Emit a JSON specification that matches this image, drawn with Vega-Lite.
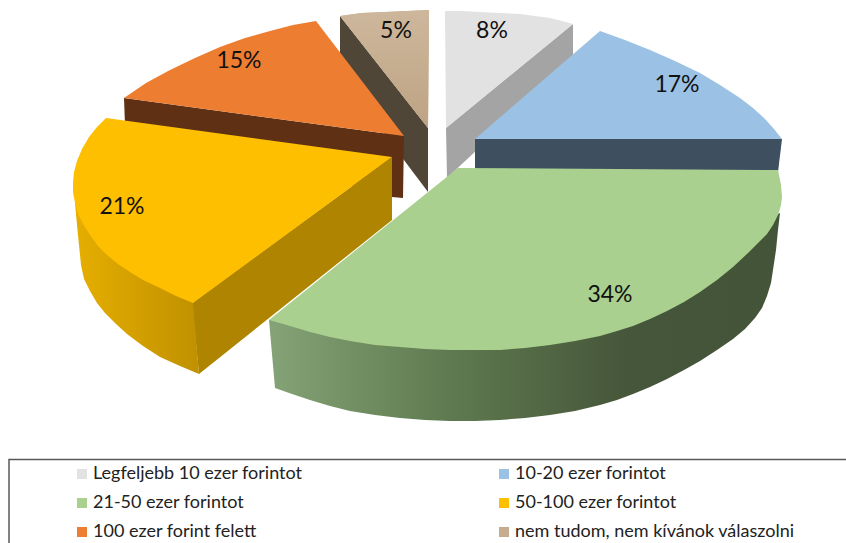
{"$schema":"https://vega.github.io/schema/vega-lite/v6.json","width":846,"height":543,"padding":0,"autosize":{"type":"none"},"background":"white","config":{"view":{"stroke":null}},"datasets":{"shapes":[
{"face":"tanSide","n":1,"x":340,"y":16},{"face":"tanSide","n":2,"x":428,"y":128},{"face":"tanSide","n":3,"x":428,"y":192},{"face":"tanSide","n":4,"x":340,"y":75},
{"face":"graySide","n":1,"x":446,"y":128},{"face":"graySide","n":2,"x":573,"y":24},{"face":"graySide","n":3,"x":573,"y":60},{"face":"graySide","n":4,"x":447,"y":178},
{"face":"orangeSide","n":1,"x":124,"y":98},{"face":"orangeSide","n":2,"x":404,"y":136},{"face":"orangeSide","n":3,"x":403,"y":198},{"face":"orangeSide","n":4,"x":392,"y":197},{"face":"orangeSide","n":5,"x":125,"y":125},
{"face":"yellowRight","n":1,"x":192,"y":303},{"face":"yellowRight","n":2,"x":392,"y":157},{"face":"yellowRight","n":3,"x":392,"y":220},{"face":"yellowRight","n":4,"x":199,"y":374},
{"face":"yellowOuter","n":1,"x":75,"y":203},{"face":"yellowOuter","n":2,"x":77,"y":225},{"face":"yellowOuter","n":3,"x":79,"y":245},{"face":"yellowOuter","n":4,"x":81,"y":265},{"face":"yellowOuter","n":5,"x":84,"y":279},{"face":"yellowOuter","n":6,"x":90,"y":291},{"face":"yellowOuter","n":7,"x":97,"y":303},{"face":"yellowOuter","n":8,"x":105,"y":313},{"face":"yellowOuter","n":9,"x":115,"y":323},{"face":"yellowOuter","n":10,"x":127,"y":334},{"face":"yellowOuter","n":11,"x":143,"y":346},{"face":"yellowOuter","n":12,"x":160,"y":357},{"face":"yellowOuter","n":13,"x":180,"y":366},{"face":"yellowOuter","n":14,"x":199,"y":374},{"face":"yellowOuter","n":15,"x":193,"y":303},{"face":"yellowOuter","n":16,"x":120,"y":230},
{"face":"blueSide","n":1,"x":475,"y":139},{"face":"blueSide","n":2,"x":782,"y":139},{"face":"blueSide","n":3,"x":778,"y":172},{"face":"blueSide","n":4,"x":475,"y":172},
{"face":"greenOuter","n":1,"x":780,"y":213},{"face":"greenOuter","n":2,"x":778,"y":230},{"face":"greenOuter","n":3,"x":776,"y":250},{"face":"greenOuter","n":4,"x":773,"y":270},{"face":"greenOuter","n":5,"x":771,"y":283},{"face":"greenOuter","n":6,"x":767,"y":296},{"face":"greenOuter","n":7,"x":762,"y":308},{"face":"greenOuter","n":8,"x":755,"y":318},{"face":"greenOuter","n":9,"x":745,"y":329},{"face":"greenOuter","n":10,"x":733,"y":339},{"face":"greenOuter","n":11,"x":717,"y":350},{"face":"greenOuter","n":12,"x":700,"y":361},{"face":"greenOuter","n":13,"x":684,"y":370},{"face":"greenOuter","n":14,"x":667,"y":379},{"face":"greenOuter","n":15,"x":650,"y":387},{"face":"greenOuter","n":16,"x":633,"y":394},{"face":"greenOuter","n":17,"x":617,"y":400},{"face":"greenOuter","n":18,"x":600,"y":405},{"face":"greenOuter","n":19,"x":575,"y":411},{"face":"greenOuter","n":20,"x":550,"y":415},{"face":"greenOuter","n":21,"x":525,"y":418},{"face":"greenOuter","n":22,"x":500,"y":420},{"face":"greenOuter","n":23,"x":475,"y":421},{"face":"greenOuter","n":24,"x":450,"y":421},{"face":"greenOuter","n":25,"x":425,"y":420},{"face":"greenOuter","n":26,"x":400,"y":418},{"face":"greenOuter","n":27,"x":375,"y":415},{"face":"greenOuter","n":28,"x":350,"y":411},{"face":"greenOuter","n":29,"x":330,"y":406},{"face":"greenOuter","n":30,"x":310,"y":400},{"face":"greenOuter","n":31,"x":292,"y":394},{"face":"greenOuter","n":32,"x":275,"y":388},{"face":"greenOuter","n":33,"x":269,"y":320},{"face":"greenOuter","n":34,"x":400,"y":300},{"face":"greenOuter","n":35,"x":700,"y":250}
],"tops":[
{"slice":"Legfeljebb 10 ezer forintot","n":1,"x":446,"y":128},{"slice":"Legfeljebb 10 ezer forintot","n":2,"x":445,"y":11},{"slice":"Legfeljebb 10 ezer forintot","n":3,"x":462,"y":11},{"slice":"Legfeljebb 10 ezer forintot","n":4,"x":480,"y":12},{"slice":"Legfeljebb 10 ezer forintot","n":5,"x":500,"y":13},{"slice":"Legfeljebb 10 ezer forintot","n":6,"x":520,"y":14},{"slice":"Legfeljebb 10 ezer forintot","n":7,"x":535,"y":16},{"slice":"Legfeljebb 10 ezer forintot","n":8,"x":550,"y":18},{"slice":"Legfeljebb 10 ezer forintot","n":9,"x":562,"y":21},{"slice":"Legfeljebb 10 ezer forintot","n":10,"x":573,"y":24},
{"slice":"10-20 ezer forintot","n":1,"x":475,"y":139},{"slice":"10-20 ezer forintot","n":2,"x":600,"y":31},{"slice":"10-20 ezer forintot","n":3,"x":625,"y":40},{"slice":"10-20 ezer forintot","n":4,"x":650,"y":50},{"slice":"10-20 ezer forintot","n":5,"x":675,"y":61},{"slice":"10-20 ezer forintot","n":6,"x":700,"y":73},{"slice":"10-20 ezer forintot","n":7,"x":720,"y":85},{"slice":"10-20 ezer forintot","n":8,"x":740,"y":98},{"slice":"10-20 ezer forintot","n":9,"x":753,"y":108},{"slice":"10-20 ezer forintot","n":10,"x":765,"y":119},{"slice":"10-20 ezer forintot","n":11,"x":774,"y":129},{"slice":"10-20 ezer forintot","n":12,"x":782,"y":139},
{"slice":"21-50 ezer forintot","n":1,"x":458,"y":168},{"slice":"21-50 ezer forintot","n":2,"x":778,"y":170},{"slice":"21-50 ezer forintot","n":3,"x":781,"y":185},{"slice":"21-50 ezer forintot","n":4,"x":782,"y":197},{"slice":"21-50 ezer forintot","n":5,"x":781,"y":205},{"slice":"21-50 ezer forintot","n":6,"x":778,"y":215},{"slice":"21-50 ezer forintot","n":7,"x":773,"y":225},{"slice":"21-50 ezer forintot","n":8,"x":767,"y":234},{"slice":"21-50 ezer forintot","n":9,"x":758,"y":243},{"slice":"21-50 ezer forintot","n":10,"x":748,"y":253},{"slice":"21-50 ezer forintot","n":11,"x":733,"y":267},{"slice":"21-50 ezer forintot","n":12,"x":717,"y":280},{"slice":"21-50 ezer forintot","n":13,"x":700,"y":292},{"slice":"21-50 ezer forintot","n":14,"x":684,"y":302},{"slice":"21-50 ezer forintot","n":15,"x":667,"y":311},{"slice":"21-50 ezer forintot","n":16,"x":650,"y":319},{"slice":"21-50 ezer forintot","n":17,"x":633,"y":326},{"slice":"21-50 ezer forintot","n":18,"x":617,"y":331},{"slice":"21-50 ezer forintot","n":19,"x":600,"y":336},{"slice":"21-50 ezer forintot","n":20,"x":575,"y":341},{"slice":"21-50 ezer forintot","n":21,"x":550,"y":345},{"slice":"21-50 ezer forintot","n":22,"x":525,"y":348},{"slice":"21-50 ezer forintot","n":23,"x":500,"y":350},{"slice":"21-50 ezer forintot","n":24,"x":475,"y":350},{"slice":"21-50 ezer forintot","n":25,"x":450,"y":350},{"slice":"21-50 ezer forintot","n":26,"x":425,"y":349},{"slice":"21-50 ezer forintot","n":27,"x":400,"y":347},{"slice":"21-50 ezer forintot","n":28,"x":375,"y":345},{"slice":"21-50 ezer forintot","n":29,"x":350,"y":341},{"slice":"21-50 ezer forintot","n":30,"x":330,"y":337},{"slice":"21-50 ezer forintot","n":31,"x":310,"y":332},{"slice":"21-50 ezer forintot","n":32,"x":290,"y":326},{"slice":"21-50 ezer forintot","n":33,"x":269,"y":320},
{"slice":"50-100 ezer forintot","n":1,"x":392,"y":157},{"slice":"50-100 ezer forintot","n":2,"x":106,"y":118},{"slice":"50-100 ezer forintot","n":3,"x":97,"y":127},{"slice":"50-100 ezer forintot","n":4,"x":89,"y":137},{"slice":"50-100 ezer forintot","n":5,"x":82,"y":149},{"slice":"50-100 ezer forintot","n":6,"x":77,"y":161},{"slice":"50-100 ezer forintot","n":7,"x":74,"y":172},{"slice":"50-100 ezer forintot","n":8,"x":73,"y":182},{"slice":"50-100 ezer forintot","n":9,"x":73,"y":192},{"slice":"50-100 ezer forintot","n":10,"x":75,"y":203},{"slice":"50-100 ezer forintot","n":11,"x":78,"y":214},{"slice":"50-100 ezer forintot","n":12,"x":83,"y":224},{"slice":"50-100 ezer forintot","n":13,"x":90,"y":235},{"slice":"50-100 ezer forintot","n":14,"x":98,"y":246},{"slice":"50-100 ezer forintot","n":15,"x":107,"y":255},{"slice":"50-100 ezer forintot","n":16,"x":118,"y":264},{"slice":"50-100 ezer forintot","n":17,"x":130,"y":272},{"slice":"50-100 ezer forintot","n":18,"x":143,"y":280},{"slice":"50-100 ezer forintot","n":19,"x":160,"y":288},{"slice":"50-100 ezer forintot","n":20,"x":176,"y":296},{"slice":"50-100 ezer forintot","n":21,"x":193,"y":303},
{"slice":"100 ezer forint felett","n":1,"x":404,"y":136},{"slice":"100 ezer forint felett","n":2,"x":124,"y":98},{"slice":"100 ezer forint felett","n":3,"x":146,"y":83},{"slice":"100 ezer forint felett","n":4,"x":170,"y":70},{"slice":"100 ezer forint felett","n":5,"x":195,"y":58},{"slice":"100 ezer forint felett","n":6,"x":220,"y":47},{"slice":"100 ezer forint felett","n":7,"x":245,"y":38},{"slice":"100 ezer forint felett","n":8,"x":270,"y":31},{"slice":"100 ezer forint felett","n":9,"x":293,"y":25},{"slice":"100 ezer forint felett","n":10,"x":316,"y":21},
{"slice":"nem tudom, nem kívánok válaszolni","n":1,"x":428,"y":128},{"slice":"nem tudom, nem kívánok válaszolni","n":2,"x":340,"y":16},{"slice":"nem tudom, nem kívánok válaszolni","n":3,"x":362,"y":13},{"slice":"nem tudom, nem kívánok válaszolni","n":4,"x":385,"y":12},{"slice":"nem tudom, nem kívánok válaszolni","n":5,"x":407,"y":11},{"slice":"nem tudom, nem kívánok válaszolni","n":6,"x":429,"y":10}
],"labels":[
{"slice":"Legfeljebb 10 ezer forintot","value":0.08,"x":492,"y":31},{"slice":"10-20 ezer forintot","value":0.17,"x":677,"y":85},{"slice":"21-50 ezer forintot","value":0.34,"x":610,"y":295},{"slice":"50-100 ezer forintot","value":0.21,"x":122,"y":207},{"slice":"100 ezer forint felett","value":0.15,"x":239,"y":61},{"slice":"nem tudom, nem kívánok válaszolni","value":0.05,"x":396,"y":31}
],"frame":[{"x":9,"x2":900,"y":459.5,"y2":600}]},
"encoding":{"x":{"field":"x","type":"quantitative","scale":{"domain":[0,846],"nice":false,"zero":false},"axis":null},"y":{"field":"y","type":"quantitative","scale":{"domain":[543,0],"nice":false,"zero":false},"axis":null}},
"layer":[
{"data":{"name":"shapes"},"transform":[{"filter":"datum.face=='tanSide'"}],"mark":{"type":"line","fill":"#4f4637","strokeWidth":0},"encoding":{"order":{"field":"n"}}},
{"data":{"name":"shapes"},"transform":[{"filter":"datum.face=='graySide'"}],"mark":{"type":"line","fill":"#a4a4a4","strokeWidth":0},"encoding":{"order":{"field":"n"}}},
{"data":{"name":"shapes"},"transform":[{"filter":"datum.face=='orangeSide'"}],"mark":{"type":"line","fill":"#603014","strokeWidth":0},"encoding":{"order":{"field":"n"}}},
{"data":{"name":"shapes"},"transform":[{"filter":"datum.face=='yellowRight'"}],"mark":{"type":"line","fill":"#ae8400","strokeWidth":0},"encoding":{"order":{"field":"n"}}},
{"data":{"name":"shapes"},"transform":[{"filter":"datum.face=='yellowOuter'"}],"mark":{"type":"line","strokeWidth":0,"fill":{"gradient":"linear","x1":0,"y1":0,"x2":1,"y2":0,"stops":[{"offset":0,"color":"#e6ae00"},{"offset":1,"color":"#c09100"}]}},"encoding":{"order":{"field":"n"}}},
{"data":{"name":"shapes"},"transform":[{"filter":"datum.face=='blueSide'"}],"mark":{"type":"line","fill":"#3e4f60","strokeWidth":0},"encoding":{"order":{"field":"n"}}},
{"data":{"name":"shapes"},"transform":[{"filter":"datum.face=='greenOuter'"}],"mark":{"type":"line","strokeWidth":0,"fill":{"gradient":"linear","x1":0,"y1":0,"x2":1,"y2":0,"stops":[{"offset":0,"color":"#84a376"},{"offset":0.35,"color":"#5f7a50"},{"offset":0.7,"color":"#46563a"},{"offset":1,"color":"#445439"}]}},"encoding":{"order":{"field":"n"}}},
{"data":{"name":"tops"},"mark":{"type":"line","filled":true,"strokeWidth":0},"encoding":{"order":{"field":"n"},"fill":{"field":"slice","type":"nominal","sort":null,"scale":{"domain":["Legfeljebb 10 ezer forintot","21-50 ezer forintot","100 ezer forint felett","10-20 ezer forintot","50-100 ezer forintot","nem tudom, nem kívánok válaszolni"],"range":["#e2e2e2","#a9d08e","#ed7d31","#9bc2e4","#fdbf00","#c6ad8e"]},"legend":{"title":null,"orient":"none","legendX":73,"legendY":465,"columns":2,"symbolType":"square","symbolSize":100,"symbolStrokeWidth":0,"symbolOpacity":1,"labelFont":"Lato","labelFontSize":18,"labelColor":"#222222","labelOffset":2,"rowPadding":11,"columnPadding":192,"labelLimit":400}}}},
{"data":{"name":"tops"},"transform":[{"filter":"datum.slice=='nem tudom, nem kívánok válaszolni'"}],"mark":{"type":"line","strokeWidth":0,"fill":{"gradient":"linear","x1":0,"y1":0,"x2":0,"y2":1,"stops":[{"offset":0,"color":"#cdb79c"},{"offset":1,"color":"#bea383"}]}},"encoding":{"order":{"field":"n"}}},
{"data":{"name":"labels"},"mark":{"type":"text","font":"Lato","fontSize":23,"color":"#111111"},"encoding":{"text":{"field":"value","type":"quantitative","format":".0%"}}},
{"data":{"name":"frame"},"mark":{"type":"rect","fill":null,"stroke":"#595959","strokeWidth":1.5,"clip":true},"encoding":{"x":{"field":"x","type":"quantitative"},"x2":{"field":"x2"},"y":{"field":"y","type":"quantitative"},"y2":{"field":"y2"}}}
]}
